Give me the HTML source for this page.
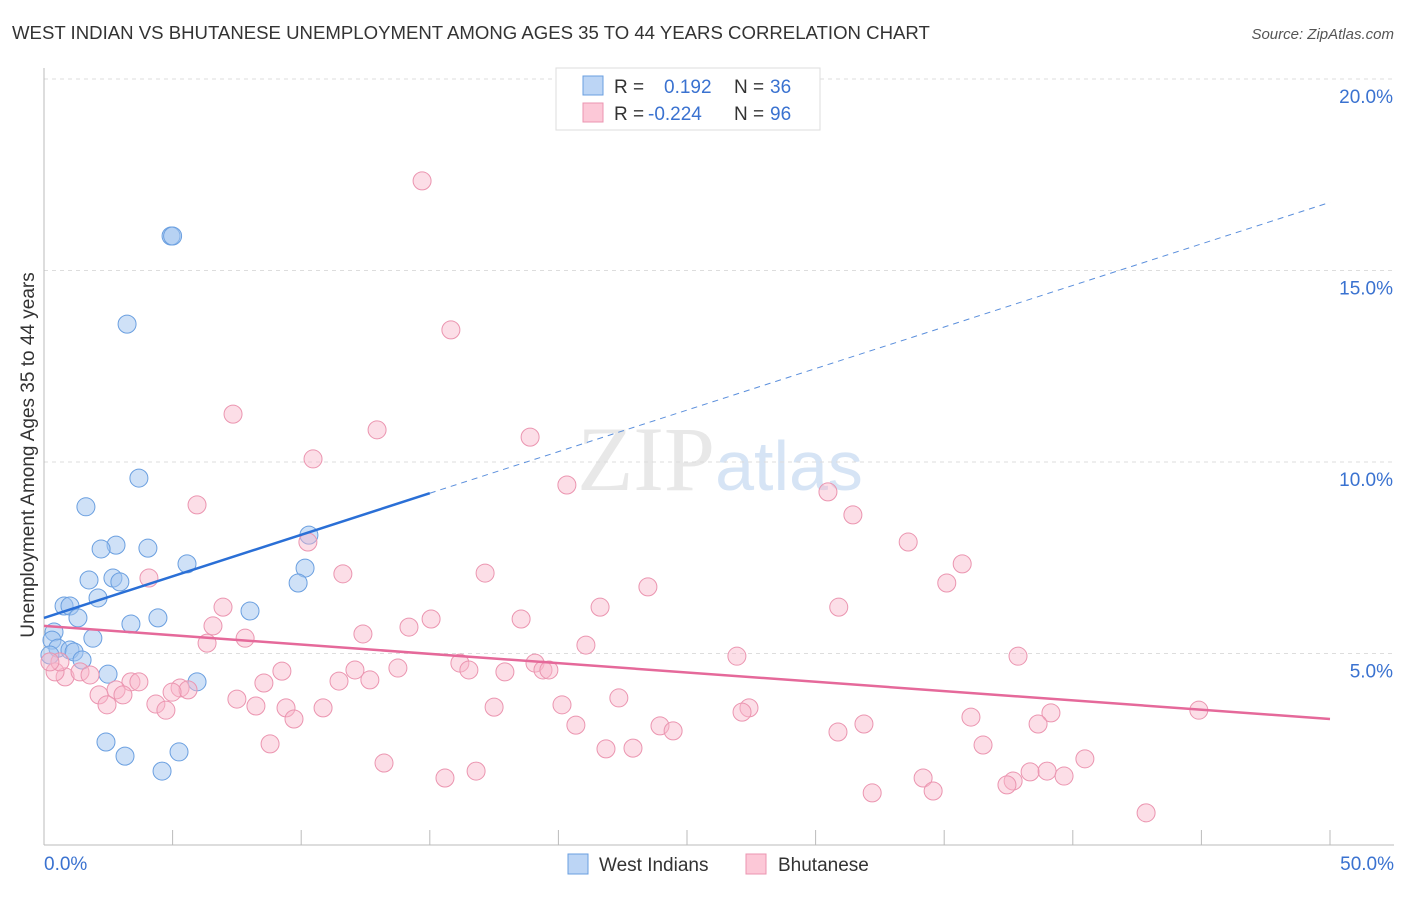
<!DOCTYPE html>
<html><head><meta charset="utf-8"><style>
body{margin:0;background:#fff;font-family:"Liberation Sans",sans-serif}
</style></head><body>
<svg id="chart" width="1406" height="892" xmlns="http://www.w3.org/2000/svg" font-family="Liberation Sans, sans-serif">
<text x="12" y="39" font-size="18.6" fill="#333">WEST INDIAN VS BHUTANESE UNEMPLOYMENT AMONG AGES 35 TO 44 YEARS CORRELATION CHART</text>
<text x="1394" y="39" font-size="15" fill="#555" text-anchor="end" font-style="italic">Source: ZipAtlas.com</text>
<text x="720" y="490" font-size="92" text-anchor="middle" fill="#e8e8e8"><tspan font-family="Liberation Serif, serif">ZIP</tspan><tspan fill="#d6e4f5" font-size="70">atlas</tspan></text>
<g id="grid"></g>
<g id="axes"></g>
<g id="marks"></g>
<g id="trends"></g>
<text transform="translate(34,455) rotate(-90)" font-size="19" fill="#333" text-anchor="middle">Unemployment Among Ages 35 to 44 years</text>
<g>
<rect x="556" y="68" width="264" height="62" fill="#fff" stroke="#ddd"/>
<rect x="583" y="76" width="20" height="19" fill="#bcd5f5" stroke="#6a9fe0"/>
<rect x="583" y="103" width="20" height="19" fill="#fcc8d7" stroke="#eb95b0"/>
<text x="614" y="93" font-size="19" fill="#333">R = </text><text x="664" y="93" font-size="19" fill="#3a72d0">0.192</text>
<text x="734" y="93" font-size="19" fill="#333">N = </text><text x="770" y="93" font-size="19" fill="#3a72d0">36</text>
<text x="614" y="120" font-size="19" fill="#333">R = </text><text x="648" y="120" font-size="19" fill="#3a72d0">-0.224</text>
<text x="734" y="120" font-size="19" fill="#333">N = </text><text x="770" y="120" font-size="19" fill="#3a72d0">96</text>
</g>
<g>
<rect x="568" y="854" width="20" height="20" fill="#bcd5f5" stroke="#6a9fe0"/>
<text x="599" y="871" font-size="19" fill="#333">West Indians</text>
<rect x="746" y="854" width="20" height="20" fill="#fcc8d7" stroke="#eb95b0"/>
<text x="778" y="871" font-size="19" fill="#333">Bhutanese</text>
</g>
</svg>
<script>
const xTicks=[0,5,10,15,20,25,30,35,40,45,50];
const yTicks=[5,10,15,20];
const blueX=[4.94,5.0,3.23,3.69,1.63,2.8,2.22,4.04,10.3,5.56,10.15,1.75,2.68,2.95,9.88,2.1,0.78,1.01,8.01,1.32,4.43,3.38,0.39,1.9,0.31,0.54,1.01,1.17,0.23,1.48,2.49,5.95,2.41,3.15,5.25,4.59];
const blueY=[15.9,15.9,13.6,9.58,8.83,7.83,7.73,7.75,8.09,7.34,7.23,6.92,6.97,6.87,6.84,6.45,6.24,6.24,6.11,5.93,5.93,5.77,5.56,5.4,5.35,5.14,5.09,5.04,4.96,4.83,4.46,4.26,2.69,2.32,2.43,1.93];
const pinkX=[14.7,15.82,7.35,12.95,18.9,10.46,20.33,30.48,5.95,31.45,10.26,33.6,35.7,4.08,11.62,17.15,23.48,35.1,6.96,21.62,30.9,15.05,18.55,6.57,14.19,12.4,7.82,6.34,21.07,26.94,37.87,16.17,19.09,16.52,12.09,13.76,9.25,17.92,19.4,19.63,0.82,1.4,1.79,0.43,0.62,0.23,11.47,12.67,8.55,3.38,3.69,2.8,5.29,5.6,4.98,2.14,3.07,7.5,22.35,4.35,8.24,9.41,10.85,17.5,20.14,4.74,2.45,27.41,27.14,39.15,44.9,36.04,9.72,20.68,23.95,24.46,31.88,30.87,38.65,8.79,36.51,21.85,22.9,40.47,13.22,16.8,15.59,34.18,38.34,39.0,39.66,37.68,37.44,34.57,32.2,42.85];
const pinkY=[17.34,13.45,11.25,10.84,10.65,10.08,9.4,9.22,8.88,8.62,7.91,7.91,7.34,6.97,7.08,7.1,6.74,6.84,6.21,6.21,6.21,5.9,5.9,5.72,5.69,5.51,5.4,5.27,5.22,4.93,4.93,4.75,4.75,4.57,4.57,4.62,4.54,4.52,4.57,4.57,4.39,4.52,4.44,4.52,4.78,4.78,4.28,4.31,4.23,4.26,4.26,4.05,4.1,4.05,3.99,3.92,3.92,3.81,3.84,3.68,3.63,3.58,3.58,3.6,3.66,3.52,3.66,3.58,3.47,3.45,3.52,3.34,3.29,3.13,3.11,2.98,3.16,2.95,3.16,2.64,2.61,2.51,2.53,2.25,2.14,1.93,1.75,1.75,1.91,1.93,1.8,1.67,1.57,1.41,1.36,0.84];
const blueTrend=[5.93,0.217];
const pinkTrend=[5.72,-0.0486];
const NS='http://www.w3.org/2000/svg';
const X=v=>44+v/50*1286;
const Y=v=>845-v/5*191.5;
function mk(t,a,p){const e=document.createElementNS(NS,t);for(const k in a)e.setAttribute(k,a[k]);document.getElementById(p).appendChild(e);return e;}
yTicks.forEach(t=>{
 const l=mk('line',{x1:44,x2:1394,y1:Y(t),y2:Y(t),stroke:'#ddd','stroke-dasharray':'4,4'},'grid');
 
 
 const tx=mk('text',{x:1393,y:Y(t)+24,'font-size':19,fill:'#3a72d0','text-anchor':'end'},'axes');
 tx.textContent=t.toFixed(1)+'%';
 
 
});
mk('line',{x1:44,x2:44,y1:68,y2:845,stroke:'#bbb'},'axes');
mk('line',{x1:44,x2:1394,y1:845,y2:845,stroke:'#bbb'},'axes');
xTicks.forEach(t=>{if(t>0){const l=mk('line',{x1:X(t),x2:X(t),y1:830,y2:845,stroke:'#bbb'},'axes');
 
 }});
[[0,'0.0%',44,'start'],[50,'50.0%',1394,'end']].forEach(a=>{const tx=mk('text',{x:a[2],y:870,'font-size':19,fill:'#3a72d0','text-anchor':a[3]},'axes');tx.textContent=a[1];
 
 });
blueX.forEach((v,i)=>{const c=mk('circle',{cx:X(v),cy:Y(blueY[i]),r:9,fill:'rgba(160,196,240,0.5)',stroke:'#6a9fe0','stroke-width':1},'marks');
 
 });
pinkX.forEach((v,i)=>{const c=mk('circle',{cx:X(v),cy:Y(pinkY[i]),r:9,fill:'rgba(248,182,202,0.45)',stroke:'#eb95b0','stroke-width':1},'marks');
 
 });
const bt=x=>blueTrend[0]+blueTrend[1]*x, pt=x=>pinkTrend[0]+pinkTrend[1]*x;
let l=mk('line',{x1:X(0),y1:Y(bt(0)),x2:X(15),y2:Y(bt(15)),stroke:'#2a6fd6','stroke-width':2.5},'trends');


l=mk('line',{x1:X(15),y1:Y(bt(15)),x2:X(50),y2:Y(bt(50)),stroke:'#5b8fdc','stroke-width':1,'stroke-dasharray':'6,5'},'trends');


l=mk('line',{x1:X(0),y1:Y(pt(0)),x2:X(50),y2:Y(pt(50)),stroke:'#e5699a','stroke-width':2.5},'trends');


</script>
</body></html>
